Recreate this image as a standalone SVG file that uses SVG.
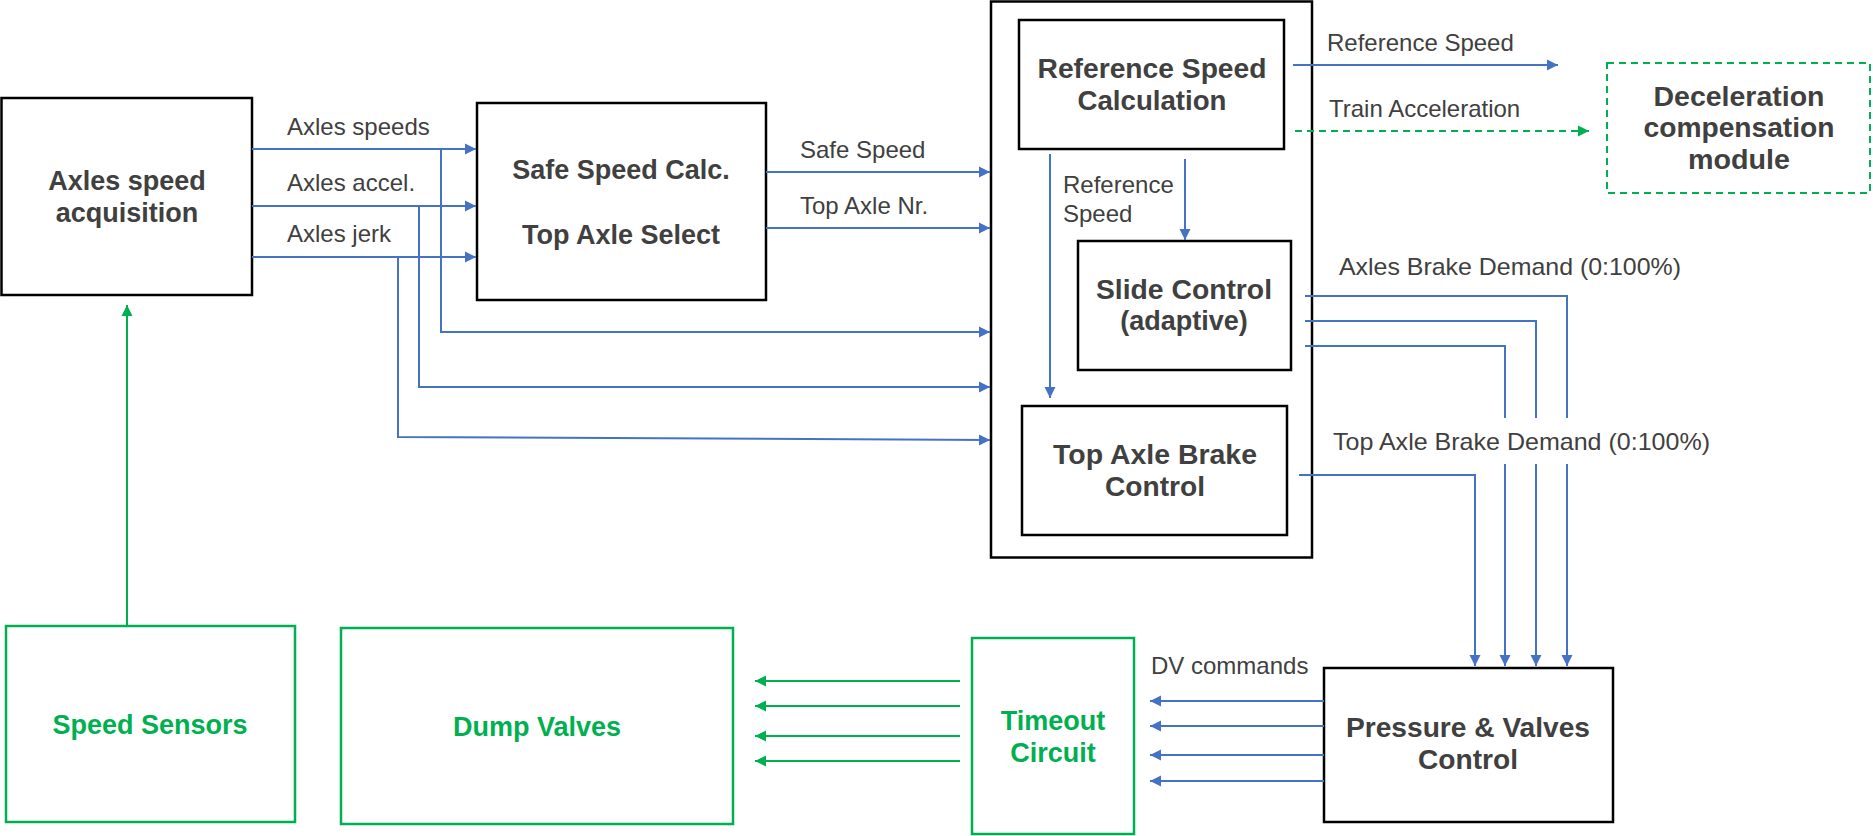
<svg xmlns="http://www.w3.org/2000/svg" width="1873" height="836" viewBox="0 0 1873 836">
<style>
.box{fill:#fff;stroke:#000;stroke-width:2.5}
.gbox{fill:#fff;stroke:#00b050;stroke-width:2.5}
.nt{font-family:"Liberation Sans",Arial,sans-serif;font-weight:bold;font-size:27px;fill:#404040;text-anchor:middle}
.gt{font-family:"Liberation Sans",Arial,sans-serif;font-weight:bold;font-size:27px;fill:#00b050;text-anchor:middle}
.lb{font-family:"Liberation Sans",Arial,sans-serif;font-size:24px;fill:#404040}
.bl{fill:none;stroke:#4472c4;stroke-width:2}
.gl{fill:none;stroke:#00b050;stroke-width:2}
</style>
<defs>
<marker id="ab" markerUnits="userSpaceOnUse" markerWidth="12" markerHeight="12" refX="11" refY="6" orient="auto"><path d="M0,0.5 L11,6 L0,11.5 z" fill="#4472c4"/></marker>
<marker id="ag" markerUnits="userSpaceOnUse" markerWidth="12" markerHeight="12" refX="11" refY="6" orient="auto"><path d="M0,0.5 L11,6 L0,11.5 z" fill="#00b050"/></marker>
</defs>
<rect width="1873" height="836" fill="#fff"/>

<g id="big-box"><rect class="box" x="991" y="1.5" width="321" height="556"/></g>

<g id="axles-speed-acquisition"><rect class="box" x="1.5" y="98" width="250.5" height="197"/>
<text class="nt" x="127" y="190">Axles speed</text><text class="nt" x="127" y="222">acquisition</text></g>

<g id="safe-speed"><rect class="box" x="477" y="103" width="289" height="197"/>
<text class="nt" x="621" y="179">Safe Speed Calc.</text><text class="nt" x="621" y="244">Top Axle Select</text></g>

<g id="reference-speed-calc"><rect class="box" x="1019" y="20" width="265" height="129"/>
<text class="nt" x="1152" y="78" textLength="229" lengthAdjust="spacingAndGlyphs">Reference Speed</text><text class="nt" x="1152" y="110" textLength="149" lengthAdjust="spacingAndGlyphs">Calculation</text></g>

<g id="slide-control"><rect class="box" x="1078" y="241" width="213" height="129"/>
<text class="nt" x="1184" y="299" textLength="176" lengthAdjust="spacingAndGlyphs">Slide Control</text><text class="nt" x="1184" y="330">(adaptive)</text></g>

<g id="top-axle-brake-control"><rect class="box" x="1022" y="406" width="265" height="129"/>
<text class="nt" x="1155" y="464" textLength="204" lengthAdjust="spacingAndGlyphs">Top Axle Brake</text><text class="nt" x="1155" y="496" textLength="100" lengthAdjust="spacingAndGlyphs">Control</text></g>

<g id="deceleration-module"><rect x="1607" y="63" width="263" height="130" fill="#fff" stroke="#00b050" stroke-width="2" stroke-dasharray="7 5"/>
<text class="nt" x="1739" y="106" textLength="171" lengthAdjust="spacingAndGlyphs">Deceleration</text><text class="nt" x="1739" y="137" textLength="191" lengthAdjust="spacingAndGlyphs">compensation</text><text class="nt" x="1739" y="169" textLength="102" lengthAdjust="spacingAndGlyphs">module</text></g>

<g id="speed-sensors"><rect class="gbox" x="6" y="626" width="289" height="196"/>
<text class="gt" x="150" y="734">Speed Sensors</text></g>

<g id="dump-valves"><rect class="gbox" x="341" y="628" width="392" height="196"/>
<text class="gt" x="537" y="736">Dump Valves</text></g>

<g id="timeout-circuit"><rect class="gbox" x="972" y="638" width="162" height="196"/>
<text class="gt" x="1053" y="730">Timeout</text><text class="gt" x="1053" y="762">Circuit</text></g>

<g id="pressure-valves-control"><rect class="box" x="1324" y="668" width="289" height="154"/>
<text class="nt" x="1468" y="737" textLength="244" lengthAdjust="spacingAndGlyphs">Pressure &amp; Valves</text><text class="nt" x="1468" y="769" textLength="100" lengthAdjust="spacingAndGlyphs">Control</text></g>

<g id="connectors">
<path class="bl" d="M252,149 H476" marker-end="url(#ab)"/>
<path class="bl" d="M252,206 H476" marker-end="url(#ab)"/>
<path class="bl" d="M252,257 H476" marker-end="url(#ab)"/>
<path class="bl" d="M441,149 V332 H990" marker-end="url(#ab)"/>
<path class="bl" d="M419,206 V387 H990" marker-end="url(#ab)"/>
<path class="bl" d="M398,257 V437 L990,440" marker-end="url(#ab)"/>
<path class="bl" d="M766,172 H990" marker-end="url(#ab)"/>
<path class="bl" d="M766,228 H990" marker-end="url(#ab)"/>
<path class="bl" d="M1293,65 H1558" marker-end="url(#ab)"/>
<path class="gl" d="M1295,131 H1589" stroke-dasharray="7 5" marker-end="url(#ag)"/>
<path class="bl" d="M1050,154 V398" marker-end="url(#ab)"/>
<path class="bl" d="M1185,159 V240" marker-end="url(#ab)"/>
<path class="bl" d="M1305,296 H1567 V418 M1567,464 V666" marker-end="url(#ab)"/>
<path class="bl" d="M1305,321 H1536 V418 M1536,464 V666" marker-end="url(#ab)"/>
<path class="bl" d="M1305,346 H1505 V418 M1505,464 V666" marker-end="url(#ab)"/>
<path class="bl" d="M1299,475 H1475 V666" marker-end="url(#ab)"/>
<path class="bl" d="M1324,701 H1150" marker-end="url(#ab)"/>
<path class="bl" d="M1324,726 H1150" marker-end="url(#ab)"/>
<path class="bl" d="M1324,755 H1150" marker-end="url(#ab)"/>
<path class="bl" d="M1324,781 H1150" marker-end="url(#ab)"/>
<path class="gl" d="M960,681 H755" marker-end="url(#ag)"/>
<path class="gl" d="M960,706 H755" marker-end="url(#ag)"/>
<path class="gl" d="M960,736 H755" marker-end="url(#ag)"/>
<path class="gl" d="M960,761 H755" marker-end="url(#ag)"/>
<path class="gl" d="M127,625 V305" marker-end="url(#ag)"/>
</g>

<g id="labels">
<text class="lb" x="287" y="135">Axles speeds</text>
<text class="lb" x="287" y="191">Axles accel.</text>
<text class="lb" x="287" y="242">Axles jerk</text>
<text class="lb" x="800" y="158">Safe Speed</text>
<text class="lb" x="800" y="214">Top Axle Nr.</text>
<text class="lb" x="1327" y="51">Reference Speed</text>
<text class="lb" x="1329" y="117">Train Acceleration</text>
<text class="lb" x="1063" y="193">Reference</text>
<text class="lb" x="1063" y="222">Speed</text>
<text class="lb" x="1339" y="275" textLength="342" lengthAdjust="spacingAndGlyphs">Axles Brake Demand (0:100%)</text>
<text class="lb" x="1333" y="450" textLength="377" lengthAdjust="spacingAndGlyphs">Top Axle Brake Demand (0:100%)</text>
<text class="lb" x="1151" y="674">DV commands</text>
</g>
</svg>
